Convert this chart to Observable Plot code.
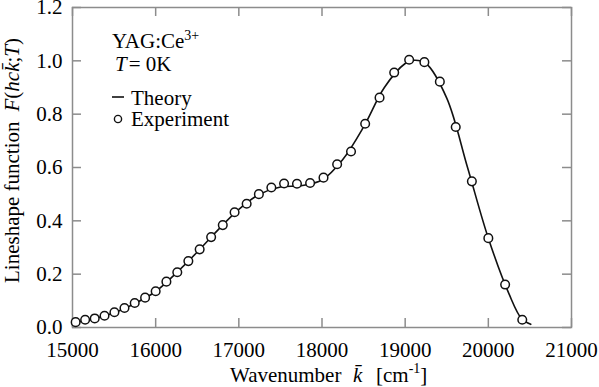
<!DOCTYPE html>
<html>
<head>
<meta charset="utf-8">
<script src="https://cdn.jsdelivr.net/npm/d3@7"></script>
<script src="https://cdn.jsdelivr.net/npm/@observablehq/plot@0.6"></script>
<style>
  body { margin: 0; background: #fff; }
  svg, svg text, svg tspan { font-family: "Liberation Serif", "Times New Roman", serif !important; }
</style>
</head>
<body>
<div id="chart"></div>
<script>
// Experiment (circles): wavenumber [cm^-1] and lineshape value
const expK = [15038, 15152, 15267, 15385, 15504, 15625, 15748, 15873, 16000, 16129,
              16260, 16393, 16529, 16667, 16807, 16949, 17094, 17241, 17391, 17544,
              17699, 17857, 18018, 18182, 18349, 18519, 18692, 18868, 19048, 19231,
              19417, 19608, 19802, 20000, 20202, 20408];
const expF = [0.020, 0.029, 0.034, 0.044, 0.057, 0.073, 0.092, 0.112, 0.136, 0.172,
              0.207, 0.249, 0.293, 0.339, 0.384, 0.432, 0.464, 0.500, 0.525, 0.540,
              0.539, 0.542, 0.562, 0.612, 0.660, 0.764, 0.862, 0.956, 1.004, 0.995,
              0.922, 0.752, 0.548, 0.335, 0.161, 0.029];

// Theory (solid line)
const thK = [15000, 15250, 15500, 15750, 16000, 16250, 16500, 16750, 17000, 17250,
             17500, 17750, 18000, 18250, 18500, 18750, 19000, 19100, 19250, 19500,
             19750, 20000, 20250, 20400, 20510];
const thF = [0.018, 0.032, 0.055, 0.090, 0.135, 0.205, 0.283, 0.366, 0.443, 0.500,
             0.527, 0.532, 0.553, 0.630, 0.752, 0.900, 0.990, 1.002, 0.990, 0.860,
             0.600, 0.335, 0.125, 0.033, 0.012];

const xTicks = [15000, 16000, 17000, 18000, 19000, 20000, 21000];
const yTicks = [0, 0.2, 0.4, 0.6, 0.8, 1.0, 1.2];

const expData = expK.map((k, i) => ({k, f: expF[i]}));
const thData = thK.map((k, i) => ({k, f: thF[i]}));

const W = 599, H = 387;
const mL = 72, mR = 28, mT = 7, mB = 60;
const fw = W - mL - mR, fh = H - mT - mB;
const tickLen = 9;
const gray = "#8c8c8c";
const serif = "'Liberation Serif', 'Times New Roman', serif";

const plot = Plot.plot({
  width: W,
  height: H,
  marginLeft: mL,
  marginRight: mR,
  marginTop: mT,
  marginBottom: mB,
  style: { fontFamily: serif, fontSize: "21px", color: "#000", background: "#fff" },
  x: { domain: [15000, 21000] },
  y: { domain: [0, 1.2] },
  marks: [
    Plot.axisX(xTicks, { tickSize: 0, tickPadding: 15, tickFormat: d => String(d), label: null, fontSize: 21, fontVariant: "normal" }),
    Plot.axisY(yTicks, { tickSize: 0, tickPadding: 10, tickFormat: d3.format(".1f"), label: null, fontSize: 21, fontVariant: "normal" }),
    // inward ticks on all four sides
    Plot.tickX(xTicks, { x: d => d, insetTop: fh - tickLen, stroke: gray, strokeWidth: 1.5 }),
    Plot.tickX(xTicks, { x: d => d, insetBottom: fh - tickLen, stroke: gray, strokeWidth: 1.5 }),
    Plot.tickY(yTicks, { y: d => d, insetRight: fw - tickLen, stroke: gray, strokeWidth: 1.5 }),
    Plot.tickY(yTicks, { y: d => d, insetLeft: fw - tickLen, stroke: gray, strokeWidth: 1.5 }),
    Plot.frame({ stroke: gray, strokeWidth: 1.5 }),
    Plot.line(thData, { x: "k", y: "f", curve: "catmull-rom", stroke: "#111", strokeWidth: 1.6 }),
    Plot.dot(expData, { x: "k", y: "f", r: 4.3, stroke: "#111", strokeWidth: 1.5, fill: "#fff" })
  ]
});

document.getElementById("chart").appendChild(plot);

const svg = d3.select(plot);
const txt = (x, y) => svg.append("text").attr("x", x).attr("y", y)
  .attr("font-size", 21).attr("fill", "#000").attr("text-anchor", "start");

// Legend / annotations
const t1 = txt(112, 48);
t1.append("tspan").text("YAG:Ce");
t1.append("tspan").attr("font-size", 14).attr("dy", -8).text("3+");

const t2 = txt(115, 71);
t2.append("tspan").attr("font-style", "italic").text("T");
t2.append("tspan").attr("dx", 2).text("= 0K");

svg.append("line").attr("x1", 112).attr("x2", 124).attr("y1", 97).attr("y2", 97)
  .attr("stroke", "#111").attr("stroke-width", 1.6);
txt(131, 105).text("Theory");
svg.append("circle").attr("cx", 118).attr("cy", 119).attr("r", 3.6)
  .attr("fill", "#fff").attr("stroke", "#111").attr("stroke-width", 1.4);
txt(131, 126).text("Experiment");

// X axis label
const xl = txt(230, 382);
xl.append("tspan").text("Wavenumber");
xl.append("tspan").attr("x", 353).attr("font-style", "italic").text("k\u0304");
xl.append("tspan").attr("x", 376).text("[cm");
xl.append("tspan").attr("font-size", 14).attr("dy", -9).text("-1");
xl.append("tspan").attr("dy", 9).text("]");

// Y axis label
const yl = svg.append("text").attr("transform", "translate(19,283) rotate(-90)")
  .attr("font-size", 21).attr("fill", "#000").attr("text-anchor", "start");
yl.append("tspan").text("Lineshape function");
yl.append("tspan").attr("dx", 10).attr("font-style", "italic").text("F");
yl.append("tspan").text("(");
yl.append("tspan").attr("font-style", "italic").text("hck\u0304");
yl.append("tspan").text(";");
yl.append("tspan").attr("font-style", "italic").text("T");
yl.append("tspan").text(")");

// force the serif face on every text, including Plot's tick labels
svg.selectAll("g, text, tspan").style("font-family", serif, "important");
</script>
</body>
</html>
